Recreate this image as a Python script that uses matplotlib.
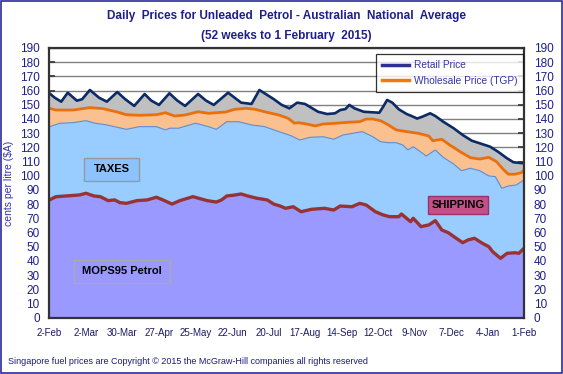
import matplotlib
matplotlib.use("Agg")
import matplotlib.pyplot as plt
import numpy as np
import pandas as pd
from matplotlib.patches import Rectangle
from matplotlib.lines import Line2D

plt.rcParams["font.family"] = ["Liberation Sans", "DejaVu Sans"]

# ── Data (days since 2-Feb-2014, cents per litre) ─────────────────────────
START = np.datetime64("2014-02-02")

retail_days = [0, 4, 9, 14, 21, 25, 31, 38, 44, 52, 58, 65, 73, 78, 84, 92, 98, 104,
               114, 120, 126, 137, 142, 147, 155, 161, 165, 172, 178, 184, 190, 196,
               206, 213, 219, 223, 227, 230, 234, 241, 253, 256, 259, 263, 268, 274,
               279, 282, 286, 292, 296, 302, 310, 317, 324, 330, 338, 344, 351, 356, 364]
retail_vals = [158.1, 155.0, 152.2, 158.5, 152.9, 153.9, 160.4, 155.0, 152.2, 159.0,
               154.0, 149.2, 157.6, 153.0, 149.9, 158.1, 153.0, 149.2, 157.6, 153.0,
               149.9, 158.5, 155.0, 151.5, 150.6, 160.4, 158.1, 154.0, 150.0, 147.5,
               151.5, 150.6, 145.1, 143.5, 144.0, 146.3, 147.0, 149.9, 147.5, 145.1,
               144.4, 148.7, 153.4, 151.5, 146.8, 143.5, 141.6, 140.3, 141.6, 144.0,
               142.1, 138.1, 133.5, 128.7, 124.7, 122.9, 120.5, 117.0, 112.3, 109.5, 108.8]

wholesale_days = [0, 5, 18, 31, 41, 52, 59, 69, 82, 89, 96, 104, 114, 122, 135, 142, 151,
                  158, 165, 176, 183, 188, 191, 197, 204, 210, 220, 229, 238, 243, 248,
                  254, 260, 266, 274, 283, 291, 294, 301, 307, 315, 323, 330, 337, 343,
                  348, 352, 357, 362, 364]
wholesale_vals = [147.5, 146.3, 146.3, 148.0, 147.3, 144.9, 143.0, 142.6, 143.0, 144.4,
                  142.1, 142.8, 145.1, 144.0, 144.9, 146.8, 147.5, 146.8, 145.1, 142.8,
                  140.5, 137.0, 137.4, 136.5, 135.1, 136.5, 137.0, 137.7, 138.1, 140.0,
                  140.0, 138.8, 135.8, 132.3, 131.1, 129.9, 128.0, 124.7, 125.7, 121.7,
                  117.0, 112.7, 111.8, 113.0, 109.9, 104.6, 101.1, 101.1, 102.2, 104.0]

taxes_days = [0, 8, 18, 28, 35, 44, 59, 69, 82, 89, 92, 99, 112, 122, 128, 136, 145,
              155, 165, 176, 185, 192, 200, 210, 218, 225, 240, 248, 254, 260, 266,
              271, 275, 279, 284, 289, 296, 302, 310, 316, 323, 330, 337, 342, 347,
              352, 358, 364]
taxes_vals = [134.6, 137.0, 137.4, 138.8, 137.0, 135.8, 132.7, 134.6, 134.6, 132.3,
              133.5, 133.5, 137.0, 134.6, 132.7, 138.1, 138.1, 135.8, 134.6, 131.1,
              128.3, 125.2, 127.1, 127.5, 125.7, 128.7, 131.1, 127.5, 124.0, 123.3,
              123.3, 121.7, 118.2, 120.5, 117.3, 113.9, 118.2, 113.0, 108.3, 103.6,
              105.3, 103.6, 99.9, 99.4, 91.2, 92.8, 93.5, 97.0]

mops_days = [0, 5, 13, 23, 28, 34, 39, 45, 50, 54, 59, 67, 75, 82, 87, 94, 100, 110,
             121, 128, 132, 136, 141, 147, 152, 159, 167, 172, 177, 181, 187, 193, 201,
             211, 218, 223, 232, 238, 243, 250, 256, 261, 268, 270, 277, 279, 285, 291,
             296, 301, 306, 312, 317, 321, 326, 332, 337, 340, 346, 351, 357, 360, 364]
mops_vals = [83.0, 85.3, 85.8, 86.5, 87.7, 85.8, 85.3, 82.5, 83.0, 81.1, 80.6, 82.5,
             83.0, 84.9, 83.0, 80.1, 82.5, 85.3, 82.5, 81.5, 83.0, 85.8, 86.3, 87.2,
             85.8, 84.2, 83.0, 80.1, 78.7, 77.1, 78.2, 74.7, 76.4, 77.1, 75.9, 78.7,
             78.2, 80.6, 79.4, 74.7, 72.4, 71.2, 71.2, 73.1, 67.7, 70.1, 64.2, 65.4,
             68.4, 61.8, 59.9, 56.0, 52.9, 54.8, 56.0, 52.5, 50.1, 46.5, 41.9, 45.4,
             45.8, 45.4, 48.9]

tick_dates = pd.date_range("2014-02-02", periods=14, freq="28D")
tick_labels = [f"{d.day}-{d:%b}" for d in tick_dates]
y_ticks = list(range(0, 200, 10))

NAVY = "#0B2A66"
TEXT_BLUE = "#1E1E8C"


def to_dates(days):
    return START + np.array(days).astype("timedelta64[D]")


fig = plt.figure(figsize=(5.63, 3.74), dpi=100)
ax = fig.add_axes([0.0879, 0.1503, 0.8428, 0.7214])

# stacked look: draw filled layers from the top down
ax.fill_between(to_dates(retail_days), retail_vals, 0, color="#C0C0C0", lw=0, zorder=1)
ax.fill_between(to_dates(wholesale_days), wholesale_vals, 0, color="#FAC090", lw=0, zorder=2)
ax.fill_between(to_dates(taxes_days), taxes_vals, 0, color="#99CCFF", lw=0, zorder=3)
ax.plot(to_dates(taxes_days), taxes_vals, color="#5B8ED6", lw=0.8, zorder=3.5)
ax.fill_between(to_dates(mops_days), mops_vals, 0, color="#9999FF", lw=0, zorder=4)

ax.plot(to_dates(mops_days), mops_vals, color="#993333", lw=2.4, zorder=5)
ax.plot(to_dates(wholesale_days), wholesale_vals, color="#E8700F", lw=2.0, zorder=5)
ax.plot(to_dates(retail_days), retail_vals, color=NAVY, lw=1.9, zorder=6)

ax.set_xlim(START, START + np.timedelta64(364, "D"))
ax.set_ylim(0, 190)
ax.set_yticks(y_ticks)
ax.set_xticks(tick_dates)
ax.set_xticklabels(tick_labels)
ax.set_xticks(pd.date_range("2014-02-02", "2015-02-01", freq="7D"), minor=True)

ax.grid(axis="y", color="#808080", lw=1.0)
ax.set_axisbelow(True)

for sp in ax.spines.values():
    sp.set_color("#333333")
    sp.set_linewidth(1.6)
    sp.set_zorder(10)

ax.tick_params(axis="y", which="both", direction="in", length=4, width=1.2,
               left=True, right=True, labelleft=True, labelright=True,
               labelsize=8.5, labelcolor=TEXT_BLUE, color="#333333", pad=7)
ax.tick_params(axis="x", which="major", direction="in", length=4, width=1.2,
               labelsize=7, labelcolor="#1A1A66", color="#333333", pad=7)
ax.tick_params(axis="x", which="minor", direction="in", length=3, width=1.0,
               color="#333333")

ax.set_ylabel("cents per litre ($A)", fontsize=7.5, color="#3333AA", labelpad=4)

fig.text(0.508, 0.957, "Daily  Prices for Unleaded  Petrol - Australian  National  Average",
         ha="center", va="center", fontsize=8.5, fontweight="bold", color=TEXT_BLUE)
fig.text(0.508, 0.904, "(52 weeks to 1 February  2015)",
         ha="center", va="center", fontsize=8.5, fontweight="bold", color=TEXT_BLUE)

# legend box
handles = [Line2D([], [], color="#2E3192", lw=2.5),
           Line2D([], [], color="#F07A10", lw=2.5)]
leg = fig.legend(handles, ["Retail Price", "Wholesale Price (TGP)"],
                 loc="upper left", bbox_to_anchor=(0.659, 0.869),
                 fontsize=7.3, frameon=True, fancybox=False, handlelength=2.6,
                 handletextpad=0.5, labelspacing=0.55, borderpad=0.6)
leg.get_frame().set_edgecolor("black")
leg.get_frame().set_linewidth(0.9)
for t in leg.get_texts():
    t.set_color("#3333AA")


def label_box(x0, y0, x1, y1, text, face, edge):
    # pixel coordinates from the top-left corner of the figure
    W, H = 563.0, 374.0
    r = Rectangle((x0 / W, 1 - y1 / H), (x1 - x0) / W, (y1 - y0) / H,
                  transform=fig.transFigure, facecolor=face, edgecolor=edge,
                  lw=1.0, zorder=20)
    fig.add_artist(r)
    fig.text((x0 + x1) / 2 / W, 1 - (y0 + y1) / 2 / H, text, ha="center", va="center",
             fontsize=8, fontweight="bold", color="black", zorder=21)


label_box(84, 158, 139, 181, "TAXES", "#8CC3FF", "#999999")
label_box(428, 196, 488, 214, "SHIPPING", "#C4508A", "#993366")
label_box(74, 260, 170, 283, "MOPS95 Petrol", "#9999FF", "#AAAAAA")

fig.text(8 / 563, 1 - 361 / 374,
         "Singapore fuel prices are Copyright \u00a9 2015 the McGraw-Hill companies all rights reserved",
         ha="left", va="center", fontsize=6.5, color="#1A1A80")

# outer frame
fig.add_artist(Rectangle((0.001, 0.002), 0.997, 0.995, transform=fig.transFigure,
                         fill=False, edgecolor="#2B2B9A", lw=1.2, zorder=30))

fig.savefig("out.png", dpi=100)
